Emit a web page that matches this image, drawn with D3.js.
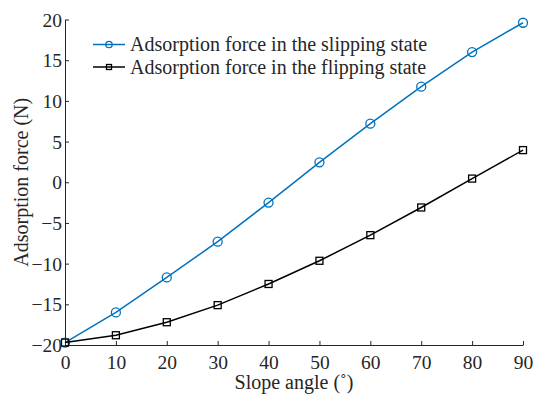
<!DOCTYPE html>
<html>
<head>
<meta charset="utf-8">
<script src="https://cdn.jsdelivr.net/npm/d3@7"></script>
<style>
  body { margin: 0; background: #fff; }
  text { font-family: "Liberation Serif", "Times New Roman", serif; fill: #262626; }
</style>
</head>
<body>
<div id="chart"></div>
<script>
// data
var angles = [0, 10, 20, 30, 40, 50, 60, 70, 80, 90];
var slipping = [-19.7, -16.0, -11.7, -7.3, -2.5, 2.45, 7.2, 11.75, 16.0, 19.6];
var flipping = [-19.7, -18.8, -17.2, -15.1, -12.5, -9.65, -6.5, -3.1, 0.45, 3.95];
var xTicks = [0, 10, 20, 30, 40, 50, 60, 70, 80, 90];
var yTicks = [-20, -15, -10, -5, 0, 5, 10, 15, 20];
var seriesNames = ["Adsorption force in the slipping state", "Adsorption force in the flipping state"];

var width = 538;
var height = 397;
var margin = {left: 65, right: 15, top: 19.5, bottom: 52};
var axisColor = "#262626";

var svg = d3.select("#chart")
            .append("svg")
            .attr("width", width)
            .attr("height", height);

var x = d3.scaleLinear()
          .domain([0, 90])
          .range([margin.left, width - margin.right]);
var y = d3.scaleLinear()
          .domain([-20, 20])
          .range([height - margin.bottom, margin.top]);

// axes (ticks point inwards)
var xAxis = svg.append("g")
               .attr("transform", "translate(0," + y(-20) + ")")
               .call(d3.axisBottom(x).tickValues(xTicks).tickSizeInner(-4).tickSizeOuter(0).tickPadding(8));
var yAxis = svg.append("g")
               .attr("transform", "translate(" + x(0) + ",0)")
               .call(d3.axisLeft(y).tickValues(yTicks).tickSizeInner(-4).tickSizeOuter(0).tickPadding(3)
                       .tickFormat(function(d) { return d < 0 ? "\u2212" + Math.abs(d) : d; }));

[xAxis, yAxis].forEach(function(g) {
  g.select(".domain").attr("stroke", axisColor).attr("stroke-width", 1);
  g.selectAll(".tick line").attr("stroke", axisColor);
  g.selectAll(".tick text")
   .attr("fill", axisColor)
   .style("font-family", "'Liberation Serif', serif")
   .style("font-size", "19.5px");
});
xAxis.selectAll(".tick text").attr("dy", "0.8em");
yAxis.selectAll(".tick text").attr("dy", "0.34em");

// axis titles
svg.append("text")
   .attr("x", x(45))
   .attr("y", 389)
   .attr("text-anchor", "middle")
   .style("font-size", "20px")
   .text("Slope angle (\u02DA)");

svg.append("text")
   .attr("transform", "translate(28," + y(0) + ") rotate(-90)")
   .attr("text-anchor", "middle")
   .style("font-size", "20px")
   .text("Adsorption force (N)");

var line = d3.line()
             .x(function(d, i) { return x(angles[i]); })
             .y(function(d) { return y(d); });

// slipping series
svg.append("path")
   .datum(slipping)
   .attr("d", line)
   .attr("fill", "none")
   .attr("stroke", "#0072BD")
   .attr("stroke-width", 1.5);
svg.selectAll("circle.slip")
   .data(slipping)
   .enter()
   .append("circle")
   .attr("class", "slip")
   .attr("cx", function(d, i) { return x(angles[i]); })
   .attr("cy", function(d) { return y(d); })
   .attr("r", 4.5)
   .attr("fill", "none")
   .attr("stroke", "#0072BD")
   .attr("stroke-width", 1.3);

// flipping series
svg.append("path")
   .datum(flipping)
   .attr("d", line)
   .attr("fill", "none")
   .attr("stroke", "#000")
   .attr("stroke-width", 1.5);
svg.selectAll("rect.flip")
   .data(flipping)
   .enter()
   .append("rect")
   .attr("class", "flip")
   .attr("x", function(d, i) { return x(angles[i]) - 3.5; })
   .attr("y", function(d) { return y(d) - 3.5; })
   .attr("width", 7)
   .attr("height", 7)
   .attr("fill", "none")
   .attr("stroke", "#000")
   .attr("stroke-width", 1.3);

// legend
var legend = svg.append("g").attr("transform", "translate(93,44.5)");
var colors = ["#0072BD", "#000"];
seriesNames.forEach(function(name, i) {
  var row = legend.append("g").attr("transform", "translate(0," + (i * 22.5) + ")");
  row.append("line")
     .attr("x1", 0).attr("x2", 32)
     .attr("stroke", colors[i])
     .attr("stroke-width", 1.5);
  if (i === 0) {
    row.append("circle").attr("cx", 16).attr("r", 3.2)
       .attr("fill", "none").attr("stroke", colors[i]).attr("stroke-width", 1.3);
  } else {
    row.append("rect").attr("x", 13.5).attr("y", -2.5).attr("width", 5).attr("height", 5)
       .attr("fill", "none").attr("stroke", colors[i]).attr("stroke-width", 1.3);
  }
  row.append("text")
     .attr("x", 37)
     .attr("dy", "0.34em")
     .style("font-size", "20px")
     .text(name);
});
</script>
</body>
</html>
